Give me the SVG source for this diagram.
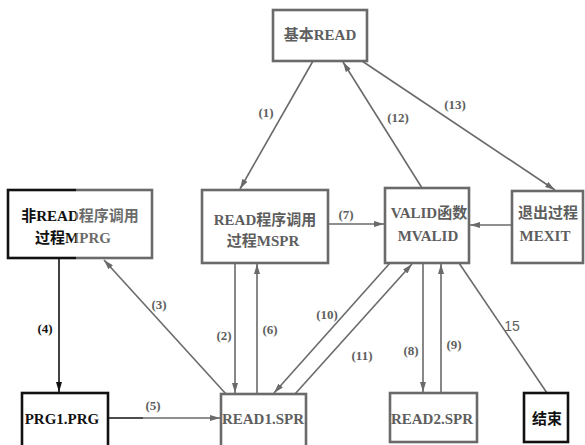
<svg xmlns="http://www.w3.org/2000/svg" width="585" height="445" viewBox="0 0 585 445">
<style>
.box{fill:#fff;stroke:#6a6a6a;stroke-width:2.6}
.blk{stroke:#111}
.t{font-family:"Liberation Serif","Noto Sans CJK SC",serif;font-weight:bold;font-size:15px;fill:#5e5e5e;text-anchor:middle}
.c{fill:none;stroke:#6a6a6a;stroke-width:1.6}
.lb{font-family:"Liberation Serif",serif;font-weight:bold;font-size:13px;fill:#5e5e5e;text-anchor:middle}
.tb{fill:#111}
</style>
<defs>
<marker id="ah" viewBox="0 0 10 6" refX="10" refY="3" markerWidth="10" markerHeight="6" markerUnits="userSpaceOnUse" orient="auto">
<path d="M0,0 L10,3 L0,6 z" fill="#6a6a6a"/>
</marker>
<marker id="ahb" viewBox="0 0 10 6" refX="10" refY="3" markerWidth="10" markerHeight="6" markerUnits="userSpaceOnUse" orient="auto">
<path d="M0,0 L10,3 L0,6 z" fill="#111"/>
</marker>
<linearGradient id="gm" gradientUnits="userSpaceOnUse" x1="0" y1="0" x2="585" y2="0">
<stop offset="0.13" stop-color="#111"/><stop offset="0.13" stop-color="#6a6a6a"/>
</linearGradient>
<linearGradient id="g5" gradientUnits="userSpaceOnUse" x1="0" y1="0" x2="585" y2="0">
<stop offset="0.245" stop-color="#111"/><stop offset="0.245" stop-color="#6a6a6a"/>
</linearGradient>
</defs>
<rect width="585" height="445" fill="#fff"/>
<g id="connectors">
<line class="c" x1="313" y1="61" x2="240" y2="189" marker-end="url(#ah)"/>
<line class="c" x1="422" y1="188" x2="343" y2="62" marker-end="url(#ah)"/>
<line class="c" x1="362" y1="61" x2="555" y2="190" marker-end="url(#ah)"/>
<line class="c" x1="327" y1="224" x2="384" y2="224" marker-end="url(#ah)"/>
<line class="c" x1="511" y1="225" x2="470" y2="225" marker-end="url(#ah)"/>
<line class="c" x1="59" y1="258" x2="59" y2="392" style="stroke:#111" marker-end="url(#ahb)"/>
<line class="c" x1="226" y1="394" x2="104" y2="260" marker-end="url(#ah)"/>
<line class="c" x1="235" y1="263" x2="235" y2="393" marker-end="url(#ah)"/>
<line class="c" x1="257" y1="393" x2="257" y2="264" marker-end="url(#ah)"/>
<line class="c" x1="390" y1="263" x2="274" y2="393" marker-end="url(#ah)"/>
<line class="c" x1="295" y1="394" x2="412" y2="264" marker-end="url(#ah)"/>
<line class="c" x1="423" y1="263" x2="423" y2="392" marker-end="url(#ah)"/>
<line class="c" x1="441" y1="393" x2="441" y2="264" marker-end="url(#ah)"/>
<line class="c" x1="459" y1="263" x2="547" y2="393"/>
<path class="c" d="M107,418 H220" style="stroke:url(#g5)" marker-end="url(#ah)"/>
<text class="lb" x="266" y="117">(1)</text>
<text class="lb" x="398" y="122">(12)</text>
<text class="lb" x="455" y="109">(13)</text>
<text class="lb" x="346" y="219">(7)</text>
<text class="lb" x="159" y="309">(3)</text>
<text class="lb tb" x="45" y="333">(4)</text>
<text class="lb" x="224" y="340">(2)</text>
<text class="lb" x="270" y="334">(6)</text>
<text class="lb" x="327" y="319">(10)</text>
<text class="lb" x="362" y="360">(11)</text>
<text class="lb" x="411" y="355">(8)</text>
<text class="lb" x="454" y="349">(9)</text>
<text x="512" y="331" style="font-family:'Liberation Sans',sans-serif;font-size:14px;fill:#5e5e5e" text-anchor="middle">15</text>
<text class="lb" x="153" y="410">(5)</text>
</g>
<g id="basic-read">
<rect class="box" x="273" y="10" width="94" height="51"/>
<text class="t" x="320" y="40">基本READ</text>
</g>
<g id="mprg">
<rect class="box" x="8" y="190" width="144" height="68" style="stroke:url(#gm)"/>
<text class="t" x="80" y="221" style="fill:url(#gm)">非READ程序调用</text>
<text class="t" x="73" y="243" style="fill:url(#gm)">过程MPRG</text>
</g>
<g id="mspr">
<rect class="box" x="202" y="190" width="126" height="73"/>
<text class="t" x="265" y="225">READ程序调用</text>
<text class="t" x="263" y="246">过程MSPR</text>
</g>
<g id="mvalid">
<rect class="box" x="385" y="188" width="84" height="75"/>
<text class="t" x="429" y="218">VALID函数</text>
<text class="t" x="428" y="241">MVALID</text>
</g>
<g id="mexit">
<rect class="box" x="512" y="191" width="71" height="72"/>
<text class="t" x="548" y="218">退出过程</text>
<text class="t" x="545" y="241">MEXIT</text>
</g>
<g id="prg1">
<rect class="box blk" x="22" y="393" width="86" height="60"/>
<text class="t tb" x="62" y="424">PRG1.PRG</text>
</g>
<g id="read1">
<rect class="box" x="221" y="394" width="85" height="60"/>
<text class="t" x="263" y="424">READ1.SPR</text>
</g>
<g id="read2">
<rect class="box" x="390" y="393" width="87" height="49"/>
<text class="t" x="432" y="424">READ2.SPR</text>
</g>
<g id="end">
<rect class="box blk" x="524" y="393" width="44" height="49"/>
<text class="t tb" x="547" y="424">结束</text>
</g>
</svg>
